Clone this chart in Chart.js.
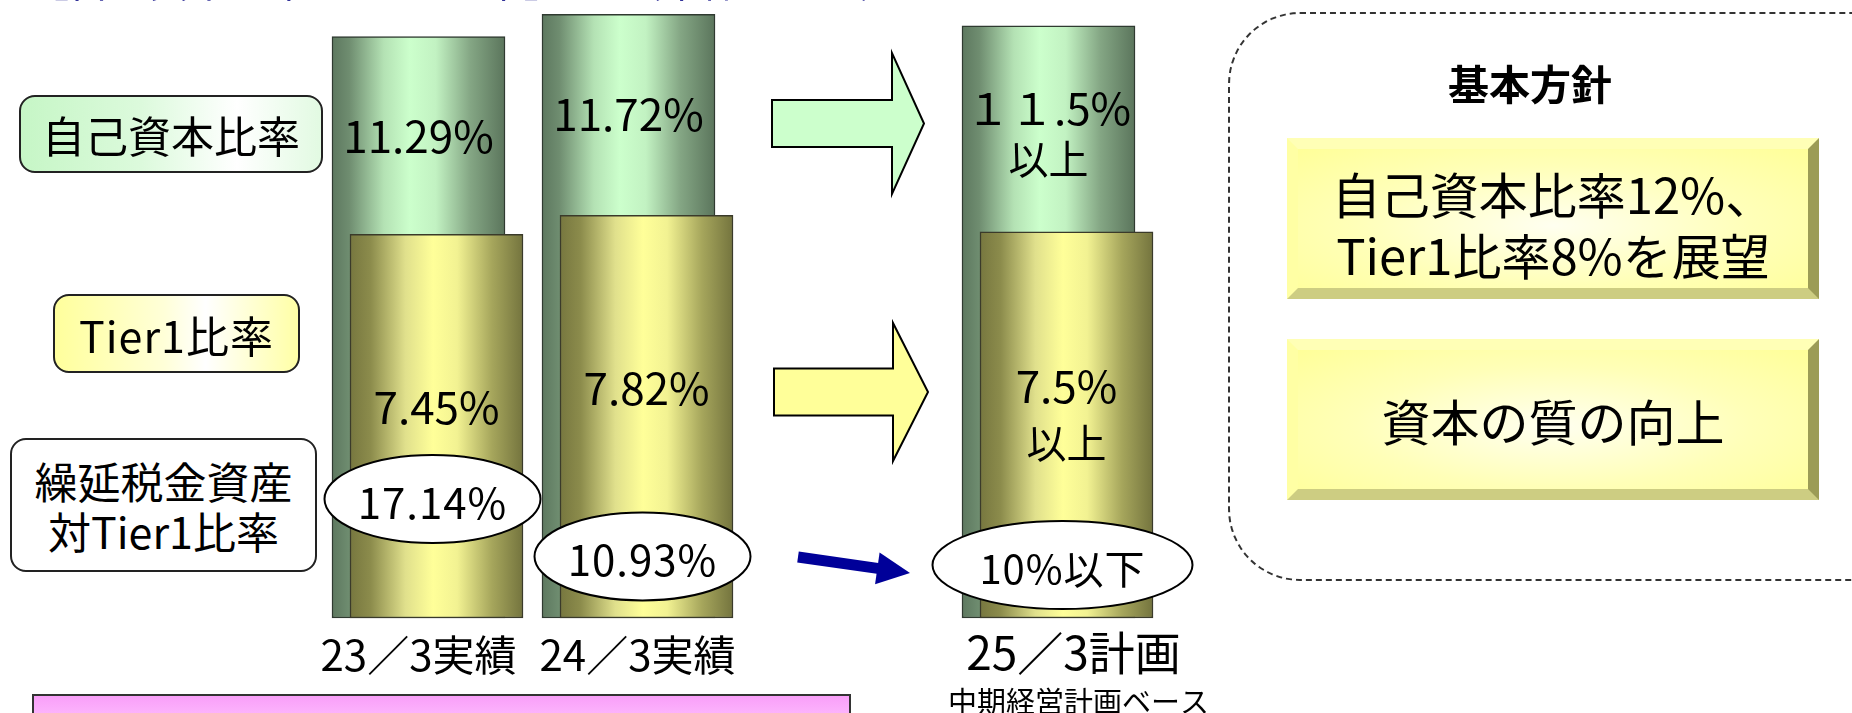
<!DOCTYPE html>
<html lang="ja">
<head>
<meta charset="utf-8">
<title>自己資本比率・Tier1比率</title>
<script src="https://cdn.jsdelivr.net/npm/chart.js@4.4.1/dist/chart.umd.min.js"></script>
<style>
  html, body { margin: 0; padding: 0; width: 1852px; height: 713px; overflow: hidden; background: #fff; }
  body { font-family: "Noto Sans CJK JP", "Noto Sans", sans-serif; color: #000; }
  #wrap { position: relative; width: 1852px; height: 713px; overflow: hidden; }
  #chart { position: absolute; left: 0; top: 0; }
  .abs { position: absolute; box-sizing: border-box; }
  #title { left: 29px; top: -40px; font-size: 40px; line-height: 40px; color: #333399; white-space: nowrap; }
  .lbl { border: 2px solid #222; border-radius: 16px; display: flex; align-items: center; justify-content: center;
         text-align: center; font-size: 43px; line-height: 50px; white-space: nowrap; }
  #lblCap { left: 19px; top: 95px; width: 304px; height: 78px;
            background: linear-gradient(90deg, #c6f6c6 0%, #dcfadc 40%, #ffffff 72%, #e2fae2 100%); }
  #lblT1 { left: 53px; top: 294px; width: 247px; height: 79px; letter-spacing: 1px;
           background: linear-gradient(90deg, #ffff9c 0%, #ffffd8 45%, #ffffff 62%, #ffffa6 100%); }
  #lblDta { left: 10px; top: 438px; width: 307px; height: 134px; background: #fff; }
  #panel { left: 1228px; top: 12px; width: 700px; height: 569px; border: 2px dashed #333; border-radius: 72px; }
  #panelTitle { left: 1380px; top: 57px; width: 300px; height: 50px; text-align: center; font-size: 41px; line-height: 50px; font-weight: bold; }
  .bevel { left: 1287px; width: 532px; height: 161px; border-style: solid; border-width: 11px;
           border-color: #ffffb6 #9c9c56 #cdcd82 #ffffa4;
           background: radial-gradient(ellipse at 50% 55%, #fffff0 0%, #ffffb8 55%, #ffff99 100%);
           display: flex; align-items: center; justify-content: center; text-align: center;
           font-size: 49px; line-height: 61px; white-space: nowrap; }
  #goal1 { top: 138px; padding-top: 8px; }
  #goal2 { top: 339px; }
  #note { left: 32px; top: 694px; width: 819px; height: 40px; border: 2px solid #333;
          background: linear-gradient(180deg, #f99ff9 0%, #ffc8ff 100%); }
</style>
</head>
<body>
<div id="wrap">
  <canvas id="chart" width="1852" height="713"></canvas>
  <div id="title" class="abs">【自己資本比率・Tier1比率】 ～ （単体ベース）</div>
  <div id="lblCap" class="abs lbl">自己資本比率</div>
  <div id="lblT1" class="abs lbl">Tier1比率</div>
  <div id="lblDta" class="abs lbl">繰延税金資産<br>対Tier1比率</div>
  <div id="panel" class="abs"></div>
  <div id="panelTitle" class="abs">基本方針</div>
  <div id="goal1" class="abs bevel">自己資本比率12%、<br>Tier1比率8%を展望</div>
  <div id="goal2" class="abs bevel">資本の質の向上</div>
  <div id="note" class="abs"></div>
</div>
<script>
// categories (the empty slot is the gap that holds the arrows)
const periods = ['23／3実績', '24／3実績', '', '25／3計画'];
const periodNote = ['', '', '', '中期経営計画ベース'];

// ratios in %
const capitalRatio = [11.29, 11.72, null, 11.5];
const tier1Ratio = [7.45, 7.82, null, 7.5];
const dtaRatio = [17.14, 10.93, null, 10];

// labels printed on the marks
const capitalText = ['11.29%', '11.72%', '', '１１.5%'];
const tier1Text = ['7.45%', '7.82%', '', '7.5%'];
const dtaText = ['17.14%', '10.93%', '', '10%以下'];
const planText = ['', '', '', '以上'];

const FONT = '"Noto Sans CJK JP", "Noto Sans", sans-serif';
const BAR_W = 173;

function barGradient(stops) {
  return function (ctx) {
    const chart = ctx.chart;
    const xs = chart.scales.x;
    const fallback = stops[3][1];
    if (ctx.type !== 'data' || !xs) return fallback;
    const cx = xs.getPixelForValue(ctx.dataIndex);
    if (!isFinite(cx)) return fallback;
    const g = chart.ctx.createLinearGradient(cx - BAR_W / 2, 0, cx + BAR_W / 2, 0);
    stops.forEach(s => g.addColorStop(s[0], s[1]));
    return g;
  };
}

const greenStops = [[0, '#5d785f'], [0.1, '#6f8d70'], [0.3, '#b4e2b4'], [0.45, '#ccffcc'], [0.6, '#c2f2c2'],
                    [0.8, '#84a684'], [1, '#5b755c']];
const yellowStops = [[0, '#77773f'], [0.12, '#8c8c4c'], [0.32, '#e0e08c'], [0.48, '#ffff99'], [0.62, '#f2f292'],
                     [0.82, '#a6a65c'], [1, '#74743e']];

// shift each series sideways so the two cylinders overlap
const barShift = {
  id: 'barShift',
  beforeDatasetDraw(chart, args) {
    const ds = chart.data.datasets[args.index];
    chart.ctx.save();
    chart.ctx.translate(ds.shift || 0, 0);
  },
  afterDatasetDraw(chart) {
    chart.ctx.restore();
  }
};

function blockArrow(ctx, x0, x1, tip, yc, sh, hh, fill) {
  ctx.beginPath();
  ctx.moveTo(x0, yc - sh);
  ctx.lineTo(x1, yc - sh);
  ctx.lineTo(x1, yc - hh);
  ctx.lineTo(tip, yc);
  ctx.lineTo(x1, yc + hh);
  ctx.lineTo(x1, yc + sh);
  ctx.lineTo(x0, yc + sh);
  ctx.closePath();
  ctx.fillStyle = fill;
  ctx.fill();
  ctx.lineWidth = 2;
  ctx.strokeStyle = '#000';
  ctx.stroke();
}

const overlay = {
  id: 'overlay',
  afterDatasetsDraw(chart) {
    const ctx = chart.ctx;
    const xs = chart.scales.x, ys = chart.scales.y, ds = chart.scales.dta;
    const capShift = chart.data.datasets[1].shift;
    const t1Shift = chart.data.datasets[0].shift;
    ctx.save();
    ctx.fillStyle = '#000';
    ctx.textAlign = 'center';
    ctx.textBaseline = 'middle';

    // values inside the cylinders
    capitalRatio.forEach((v, i) => {
      if (v == null) return;
      const cx = xs.getPixelForValue(i) + capShift;
      const top = ys.getPixelForValue(v);
      ctx.font = '44px ' + FONT;
      if (planText[i]) {
        ctx.fillText(capitalText[i], cx, top + 83);
        ctx.font = '40px ' + FONT;
        ctx.fillText(planText[i], cx, top + 133);
      } else {
        ctx.fillText(capitalText[i], cx, top + 100);
      }
    });
    tier1Ratio.forEach((v, i) => {
      if (v == null) return;
      const cx = xs.getPixelForValue(i) + t1Shift;
      const top = ys.getPixelForValue(v);
      ctx.font = '44px ' + FONT;
      if (planText[i]) {
        ctx.fillText(tier1Text[i], cx, top + 155);
        ctx.font = '40px ' + FONT;
        ctx.fillText(planText[i], cx, top + 211);
      } else {
        ctx.fillText(tier1Text[i], cx, top + 173);
      }
    });

    // deferred tax asset bubbles
    dtaRatio.forEach((v, i) => {
      if (v == null) return;
      const cx = xs.getPixelForValue(i) + 5;
      const cy = ds.getPixelForValue(v);
      const rx = planText[i] ? 130 : 108;
      ctx.beginPath();
      ctx.ellipse(cx, cy, rx, 44, 0, 0, Math.PI * 2);
      ctx.fillStyle = '#fff';
      ctx.fill();
      ctx.lineWidth = 2;
      ctx.strokeStyle = '#000';
      ctx.stroke();
      ctx.fillStyle = '#000';
      ctx.font = (planText[i] ? '40px ' : '42px ') + FONT;
      ctx.letterSpacing = '1px';
      ctx.fillText(dtaText[i], cx, cy + 4);
      ctx.letterSpacing = '0px';
    });

    // arrows towards the plan
    blockArrow(ctx, 772, 892, 924, 123.5, 23.5, 70.5, '#ccffcc');
    blockArrow(ctx, 774, 893, 928, 392, 23.5, 69, '#ffff99');

    const ax0 = 798, ay0 = 557, ax1 = 910, ay1 = 573;
    const len = Math.hypot(ax1 - ax0, ay1 - ay0);
    const dx = (ax1 - ax0) / len, dy = (ay1 - ay0) / len;
    const bx = ax1 - dx * 33, by = ay1 - dy * 33;
    ctx.beginPath();
    ctx.moveTo(ax0, ay0);
    ctx.lineTo(bx + dx * 2, by + dy * 2);
    ctx.lineWidth = 11;
    ctx.strokeStyle = '#000099';
    ctx.stroke();
    ctx.beginPath();
    ctx.moveTo(ax1, ay1);
    ctx.lineTo(bx - dy * 16, by + dx * 16);
    ctx.lineTo(bx + dy * 16, by - dx * 16);
    ctx.closePath();
    ctx.fillStyle = '#000099';
    ctx.fill();

    // period labels under the cylinders
    ctx.fillStyle = '#000';
    periods.forEach((p, i) => {
      if (!p) return;
      const cx = xs.getPixelForValue(i);
      if (periodNote[i]) {
        ctx.font = '46px ' + FONT;
        ctx.fillText(p, cx + 16, ys.bottom + 35);
        ctx.font = '29px ' + FONT;
        ctx.fillText(periodNote[i], cx + 21, ys.bottom + 84);
      } else {
        ctx.font = '42px ' + FONT;
        ctx.fillText(p, cx - (i === 0 ? 9 : 0), ys.bottom + 37);
      }
    });
    ctx.restore();
  }
};

const chart = new Chart(document.getElementById('chart'), {
  type: 'bar',
  data: {
    labels: periods,
    datasets: [
      {
        label: 'Tier1比率',
        data: tier1Ratio,
        shift: 9,
        backgroundColor: barGradient(yellowStops),
        borderColor: '#3a3a2a',
        borderWidth: 1.5,
        borderSkipped: false
      },
      {
        label: '自己資本比率',
        data: capitalRatio,
        shift: -9,
        backgroundColor: barGradient(greenStops),
        borderColor: '#2f3a30',
        borderWidth: 1.5,
        borderSkipped: false
      }
    ]
  },
  options: {
    responsive: false,
    devicePixelRatio: 1,
    animation: false,
    grouped: false,
    barThickness: BAR_W,
    clip: false,
    layout: { padding: { left: 322.5, right: 689.5, top: 0, bottom: 95 } },
    font: { family: FONT },
    plugins: { legend: { display: false }, tooltip: { enabled: false } },
    scales: {
      x: { display: false, offset: true },
      y: { display: false, min: 0, max: 12 },
      dta: { axis: 'y', position: 'right', display: false, min: 4.26, max: 71.15 }
    }
  },
  plugins: [barShift, overlay]
});
chart.update();
</script>
</body>
</html>
